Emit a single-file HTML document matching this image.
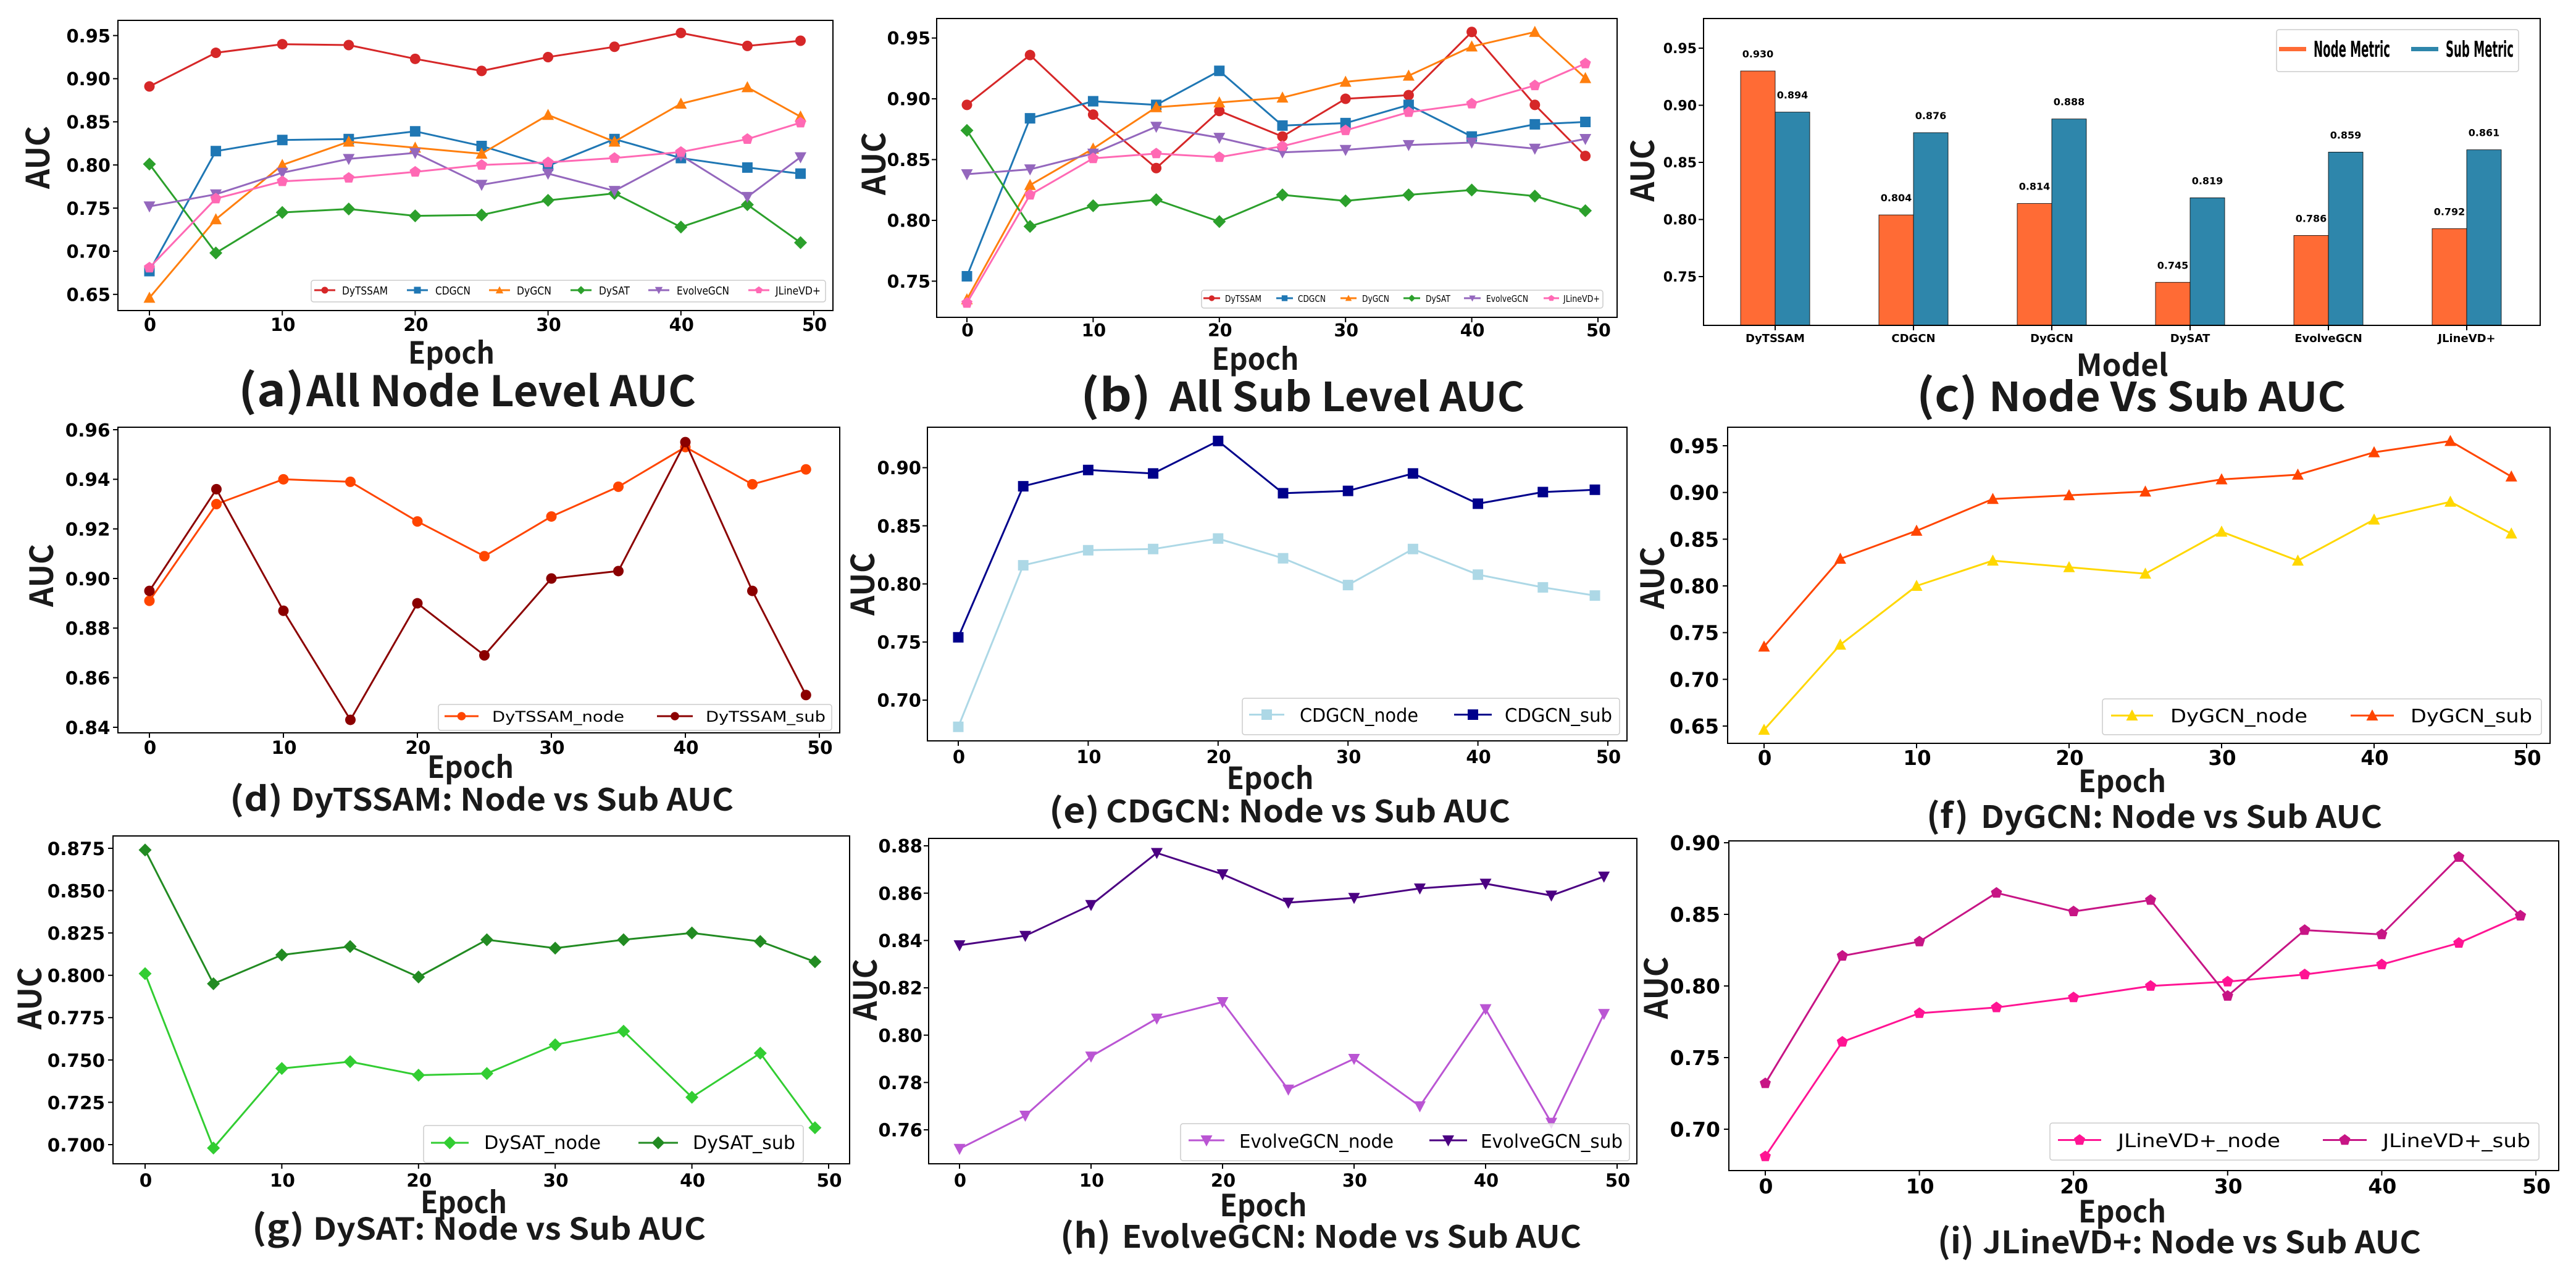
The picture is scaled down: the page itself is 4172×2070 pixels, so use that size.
<!DOCTYPE html>
<html lang="en">
<head>
<meta charset="utf-8">
<title>AUC comparison charts</title>
<style>
html,body{margin:0;padding:0;background:#fff;}
svg{display:block;}
.tick,.value{font-family:"DejaVu Sans","Liberation Sans",sans-serif;font-weight:700;fill:#000;}
.legend-text{font-family:"DejaVu Sans","Liberation Sans",sans-serif;font-weight:400;fill:#000;}
.cap{font-family:"Noto Sans CJK SC","Liberation Sans",sans-serif;font-weight:700;fill:#1a1a1a;}
.frame{fill:none;stroke:#000;stroke-width:2;}
.legend-box{fill:#fff;fill-opacity:.8;stroke:#ccc;stroke-width:1.5;}
</style>
</head>
<body>
<svg id="root" xmlns="http://www.w3.org/2000/svg" width="4172" height="2070" viewBox="0 0 4172 2070">
<rect width="4172" height="2070" fill="#fff"/>

<g>
  <g id="plot-a"></g>
  <rect class="frame" x="191" y="33" width="1158" height="470"/>
  <text class="cap" transform="translate(80,255) rotate(-90)" text-anchor="middle" font-size="52" textLength="102" lengthAdjust="spacingAndGlyphs">AUC</text>
  <text class="cap" x="731" y="589" text-anchor="middle" font-size="49" textLength="140" lengthAdjust="spacingAndGlyphs">Epoch</text>
  <text class="cap" x="386" y="658" font-size="72" textLength="107" lengthAdjust="spacingAndGlyphs">(a)</text>
  <text class="cap" x="496" y="658" font-size="68" textLength="631" lengthAdjust="spacingAndGlyphs">All Node Level AUC</text>
  <g>
    <rect class="legend-box" x="504" y="454" width="833" height="35" rx="4"/>
    <g id="legend-handles-a"></g>
    <text class="legend-text" x="554" y="477" font-size="18" textLength="74" lengthAdjust="spacingAndGlyphs">DyTSSAM</text>
    <text class="legend-text" x="705" y="477" font-size="18" textLength="57" lengthAdjust="spacingAndGlyphs">CDGCN</text>
    <text class="legend-text" x="837" y="477" font-size="18" textLength="56" lengthAdjust="spacingAndGlyphs">DyGCN</text>
    <text class="legend-text" x="970" y="477" font-size="18" textLength="50" lengthAdjust="spacingAndGlyphs">DySAT</text>
    <text class="legend-text" x="1096" y="477" font-size="18" textLength="85" lengthAdjust="spacingAndGlyphs">EvolveGCN</text>
    <text class="legend-text" x="1256" y="477" font-size="18" textLength="73" lengthAdjust="spacingAndGlyphs">JLineVD+</text>
  </g>
</g>

<g>
  <g id="plot-b"></g>
  <rect class="frame" x="1517" y="30" width="1102" height="484"/>
  <text class="cap" transform="translate(1434,265) rotate(-90)" text-anchor="middle" font-size="52" textLength="102" lengthAdjust="spacingAndGlyphs">AUC</text>
  <text class="cap" x="2033" y="599" text-anchor="middle" font-size="49" textLength="141" lengthAdjust="spacingAndGlyphs">Epoch</text>
  <text class="cap" x="1750" y="666" font-size="72" textLength="114" lengthAdjust="spacingAndGlyphs">(b)</text>
  <text class="cap" x="1894" y="666" font-size="65" textLength="575" lengthAdjust="spacingAndGlyphs">All Sub Level AUC</text>
  <g>
    <rect class="legend-box" x="1946" y="470" width="650" height="29" rx="4"/>
    <g id="legend-handles-b"></g>
    <text class="legend-text" x="1984" y="489" font-size="15" textLength="59" lengthAdjust="spacingAndGlyphs">DyTSSAM</text>
    <text class="legend-text" x="2102" y="489" font-size="15" textLength="45" lengthAdjust="spacingAndGlyphs">CDGCN</text>
    <text class="legend-text" x="2206" y="489" font-size="15" textLength="44" lengthAdjust="spacingAndGlyphs">DyGCN</text>
    <text class="legend-text" x="2309" y="489" font-size="15" textLength="40" lengthAdjust="spacingAndGlyphs">DySAT</text>
    <text class="legend-text" x="2407" y="489" font-size="15" textLength="68" lengthAdjust="spacingAndGlyphs">EvolveGCN</text>
    <text class="legend-text" x="2532" y="489" font-size="15" textLength="59" lengthAdjust="spacingAndGlyphs">JLineVD+</text>
  </g>
</g>

<g>
  <g id="plot-c"></g>
  <rect class="frame" x="2759" y="30" width="1355" height="497"/>
  <text class="cap" transform="translate(2679,276) rotate(-90)" text-anchor="middle" font-size="52" textLength="101" lengthAdjust="spacingAndGlyphs">AUC</text>
  <text class="cap" x="3437" y="609" text-anchor="middle" font-size="49" textLength="149" lengthAdjust="spacingAndGlyphs">Model</text>
  <text class="cap" x="3104" y="666" font-size="72" textLength="99" lengthAdjust="spacingAndGlyphs">(c)</text>
  <text class="cap" x="3221" y="666" font-size="65" textLength="578" lengthAdjust="spacingAndGlyphs">Node Vs Sub AUC</text>
  <g>
    <rect class="legend-box" x="3687" y="48" width="392" height="68" rx="4"/>
    <rect x="3691" y="76" width="44" height="7" fill="#FF6B35"/>
    <text class="value" x="3747" y="92" font-size="36" textLength="124" lengthAdjust="spacingAndGlyphs">Node Metric</text>
    <rect x="3905" y="76" width="44" height="7" fill="#2E86AB"/>
    <text class="value" x="3961" y="92" font-size="36" textLength="110" lengthAdjust="spacingAndGlyphs">Sub Metric</text>
  </g>
</g>

<g>
  <g id="plot-d"></g>
  <rect class="frame" x="191" y="692" width="1169" height="495"/>
  <text class="cap" transform="translate(86,932) rotate(-90)" text-anchor="middle" font-size="52" textLength="102" lengthAdjust="spacingAndGlyphs">AUC</text>
  <text class="cap" x="762" y="1260" text-anchor="middle" font-size="49" textLength="140" lengthAdjust="spacingAndGlyphs">Epoch</text>
  <text class="cap" x="372" y="1313" font-size="54" textLength="86" lengthAdjust="spacingAndGlyphs">(d)</text>
  <text class="cap" x="471" y="1313" font-size="50" textLength="717" lengthAdjust="spacingAndGlyphs">DyTSSAM: Node vs Sub AUC</text>
  <g>
    <rect class="legend-box" x="710" y="1141" width="637" height="42" rx="4"/>
    <g id="legend-handles-d"></g>
    <text class="legend-text" x="797" y="1169" font-size="24" textLength="214" lengthAdjust="spacingAndGlyphs">DyTSSAM_node</text>
    <text class="legend-text" x="1143" y="1169" font-size="24" textLength="194" lengthAdjust="spacingAndGlyphs">DyTSSAM_sub</text>
  </g>
</g>

<g>
  <g id="plot-e"></g>
  <rect class="frame" x="1502" y="692" width="1133" height="508"/>
  <text class="cap" transform="translate(1416,946) rotate(-90)" text-anchor="middle" font-size="52" textLength="102" lengthAdjust="spacingAndGlyphs">AUC</text>
  <text class="cap" x="2057" y="1278" text-anchor="middle" font-size="49" textLength="141" lengthAdjust="spacingAndGlyphs">Epoch</text>
  <text class="cap" x="1699" y="1332" font-size="54" textLength="82" lengthAdjust="spacingAndGlyphs">(e)</text>
  <text class="cap" x="1791" y="1332" font-size="50" textLength="655" lengthAdjust="spacingAndGlyphs">CDGCN: Node vs Sub AUC</text>
  <g>
    <rect class="legend-box" x="2012" y="1131" width="611" height="59" rx="4"/>
    <g id="legend-handles-e"></g>
    <text class="legend-text" x="2105" y="1169" font-size="30" textLength="192" lengthAdjust="spacingAndGlyphs">CDGCN_node</text>
    <text class="legend-text" x="2437" y="1169" font-size="30" textLength="174" lengthAdjust="spacingAndGlyphs">CDGCN_sub</text>
  </g>
</g>

<g>
  <g id="plot-f"></g>
  <rect class="frame" x="2798" y="692" width="1332" height="512"/>
  <text class="cap" transform="translate(2695,936) rotate(-90)" text-anchor="middle" font-size="52" textLength="101" lengthAdjust="spacingAndGlyphs">AUC</text>
  <text class="cap" x="3437" y="1283" text-anchor="middle" font-size="49" textLength="142" lengthAdjust="spacingAndGlyphs">Epoch</text>
  <text class="cap" x="3120" y="1341" font-size="55" textLength="68" lengthAdjust="spacingAndGlyphs">(f)</text>
  <text class="cap" x="3208" y="1341" font-size="50" textLength="650" lengthAdjust="spacingAndGlyphs">DyGCN: Node vs Sub AUC</text>
  <g>
    <rect class="legend-box" x="3405" y="1132" width="711" height="58" rx="4"/>
    <g id="legend-handles-f"></g>
    <text class="legend-text" x="3515" y="1170" font-size="30" textLength="222" lengthAdjust="spacingAndGlyphs">DyGCN_node</text>
    <text class="legend-text" x="3904" y="1170" font-size="30" textLength="197" lengthAdjust="spacingAndGlyphs">DyGCN_sub</text>
  </g>
</g>

<g>
  <g id="plot-g"></g>
  <rect class="frame" x="183" y="1354" width="1193" height="531"/>
  <text class="cap" transform="translate(67,1617) rotate(-90)" text-anchor="middle" font-size="52" textLength="101" lengthAdjust="spacingAndGlyphs">AUC</text>
  <text class="cap" x="751" y="1965" text-anchor="middle" font-size="49" textLength="140" lengthAdjust="spacingAndGlyphs">Epoch</text>
  <text class="cap" x="408" y="2008" font-size="56" textLength="85" lengthAdjust="spacingAndGlyphs">(g)</text>
  <text class="cap" x="507" y="2008" font-size="49" textLength="636" lengthAdjust="spacingAndGlyphs">DySAT: Node vs Sub AUC</text>
  <g>
    <rect class="legend-box" x="686" y="1823" width="615" height="60" rx="4"/>
    <g id="legend-handles-g"></g>
    <text class="legend-text" x="784" y="1861" font-size="30" textLength="189" lengthAdjust="spacingAndGlyphs">DySAT_node</text>
    <text class="legend-text" x="1122" y="1861" font-size="30" textLength="166" lengthAdjust="spacingAndGlyphs">DySAT_sub</text>
  </g>
</g>

<g>
  <g id="plot-h"></g>
  <rect class="frame" x="1504" y="1358" width="1147" height="527"/>
  <text class="cap" transform="translate(1420,1603) rotate(-90)" text-anchor="middle" font-size="52" textLength="100" lengthAdjust="spacingAndGlyphs">AUC</text>
  <text class="cap" x="2046" y="1970" text-anchor="middle" font-size="49" textLength="141" lengthAdjust="spacingAndGlyphs">Epoch</text>
  <text class="cap" x="1717" y="2021" font-size="55" textLength="82" lengthAdjust="spacingAndGlyphs">(h)</text>
  <text class="cap" x="1817" y="2021" font-size="50" textLength="744" lengthAdjust="spacingAndGlyphs">EvolveGCN: Node vs Sub AUC</text>
  <g>
    <rect class="legend-box" x="1912" y="1820" width="727" height="60" rx="4"/>
    <g id="legend-handles-h"></g>
    <text class="legend-text" x="2007" y="1859" font-size="30" textLength="250" lengthAdjust="spacingAndGlyphs">EvolveGCN_node</text>
    <text class="legend-text" x="2398" y="1859" font-size="30" textLength="230" lengthAdjust="spacingAndGlyphs">EvolveGCN_sub</text>
  </g>
</g>

<g>
  <g id="plot-i"></g>
  <rect class="frame" x="2800" y="1362" width="1344" height="534"/>
  <text class="cap" transform="translate(2701,1600) rotate(-90)" text-anchor="middle" font-size="52" textLength="101" lengthAdjust="spacingAndGlyphs">AUC</text>
  <text class="cap" x="3437" y="1980" text-anchor="middle" font-size="49" textLength="142" lengthAdjust="spacingAndGlyphs">Epoch</text>
  <text class="cap" x="3138" y="2030" font-size="55" textLength="59" lengthAdjust="spacingAndGlyphs">(i)</text>
  <text class="cap" x="3211" y="2030" font-size="50" textLength="710" lengthAdjust="spacingAndGlyphs">JLineVD+: Node vs Sub AUC</text>
  <g>
    <rect class="legend-box" x="3320" y="1819" width="792" height="60" rx="4"/>
    <g id="legend-handles-i"></g>
    <text class="legend-text" x="3430" y="1858" font-size="30" textLength="263" lengthAdjust="spacingAndGlyphs">JLineVD+_node</text>
    <text class="legend-text" x="3859" y="1858" font-size="30" textLength="239" lengthAdjust="spacingAndGlyphs">JLineVD+_sub</text>
  </g>
</g>
</svg>

<script>
// ---- data ----
const epochs = [0, 5, 10, 15, 20, 25, 30, 35, 40, 45, 49];
const xTickValues = [0, 10, 20, 30, 40, 50];

const dytssamNode = [0.891, 0.930, 0.940, 0.939, 0.923, 0.909, 0.925, 0.937, 0.953, 0.938, 0.944];
const dytssamSub = [0.895, 0.936, 0.887, 0.843, 0.890, 0.869, 0.900, 0.903, 0.955, 0.895, 0.853];
const cdgcnNode = [0.677, 0.816, 0.829, 0.830, 0.839, 0.822, 0.799, 0.830, 0.808, 0.797, 0.790];
const cdgcnSub = [0.754, 0.884, 0.898, 0.895, 0.923, 0.878, 0.880, 0.895, 0.869, 0.879, 0.881];
const dygcnNode = [0.646, 0.737, 0.800, 0.827, 0.820, 0.813, 0.858, 0.827, 0.871, 0.890, 0.856];
const dygcnSub = [0.735, 0.829, 0.859, 0.893, 0.897, 0.901, 0.914, 0.919, 0.943, 0.955, 0.917];
const dysatNode = [0.801, 0.698, 0.745, 0.749, 0.741, 0.742, 0.759, 0.767, 0.728, 0.754, 0.710];
const dysatSub = [0.874, 0.795, 0.812, 0.817, 0.799, 0.821, 0.816, 0.821, 0.825, 0.820, 0.808];
const evolveNode = [0.752, 0.766, 0.791, 0.807, 0.814, 0.777, 0.790, 0.770, 0.811, 0.763, 0.809];
const evolveSub = [0.838, 0.842, 0.855, 0.877, 0.868, 0.856, 0.858, 0.862, 0.864, 0.859, 0.867];
const jlineNode = [0.681, 0.761, 0.781, 0.785, 0.792, 0.800, 0.803, 0.808, 0.815, 0.830, 0.849];
const jlineSub = [0.732, 0.821, 0.831, 0.865, 0.852, 0.860, 0.793, 0.839, 0.836, 0.890, 0.849];
const jlineSubAll = [0.732, 0.821, 0.851, 0.855, 0.852, 0.861, 0.874, 0.889, 0.896, 0.911, 0.929];

const barModels = ['DyTSSAM', 'CDGCN', 'DyGCN', 'DySAT', 'EvolveGCN', 'JLineVD+'];
const nodeMetric = [0.930, 0.804, 0.814, 0.745, 0.786, 0.792];
const subMetric = [0.894, 0.876, 0.888, 0.819, 0.859, 0.861];

const ticksA = ['0.65', '0.70', '0.75', '0.80', '0.85', '0.90', '0.95'];
const ticksB = ['0.75', '0.80', '0.85', '0.90', '0.95'];
const ticksD = ['0.84', '0.86', '0.88', '0.90', '0.92', '0.94', '0.96'];
const ticksE = ['0.70', '0.75', '0.80', '0.85', '0.90'];
const ticksF = ['0.65', '0.70', '0.75', '0.80', '0.85', '0.90', '0.95'];
const ticksG = ['0.700', '0.725', '0.750', '0.775', '0.800', '0.825', '0.850', '0.875'];
const ticksH = ['0.76', '0.78', '0.80', '0.82', '0.84', '0.86', '0.88'];
const ticksI = ['0.70', '0.75', '0.80', '0.85', '0.90'];

// ---- layout (pixels) ----
const NS = 'http://www.w3.org/2000/svg';
const RED = '#d62728', BLUE = '#1f77b4', ORANGE = '#ff7f0e', GREEN = '#2ca02c', PURPLE = '#9467bd', PINK = '#ff69b4';

function allSeries(jl) {
  return [
    {key: 'dytssam', color: RED, marker: 'circle', values: dytssamNode},
    {key: 'cdgcn', color: BLUE, marker: 'square', values: cdgcnNode},
    {key: 'dygcn', color: ORANGE, marker: 'up', values: dygcnNode},
    {key: 'dysat', color: GREEN, marker: 'diamond', values: dysatNode},
    {key: 'evolvegcn', color: PURPLE, marker: 'down', values: evolveNode},
    {key: 'jlinevd', color: PINK, marker: 'pentagon', values: jl}
  ];
}
const bSeries = allSeries(jlineSubAll);
bSeries[0].values = dytssamSub; bSeries[1].values = cdgcnSub; bSeries[2].values = dygcnSub;
bSeries[3].values = dysatSub; bSeries[4].values = evolveSub;

const panels = [
  {id: 'a', left: 191, bottom: 503, x0: 242, x50: 1318, v1: 0.95, p1: 57.6, v2: 0.65, p2: 476.8, ticks: ticksA, fs: 29, tickRight: 179, xBase: 536, k: 1,
   series: allSeries(jlineNode),
   handles: [[509, 543], [659, 693], [792, 826], [924, 958], [1050, 1084], [1212, 1246]], hy: 470, hk: 0.65},
  {id: 'b', left: 1517, bottom: 514, x0: 1566, x50: 2588, v1: 0.95, p1: 61.6, v2: 0.75, p2: 455.4, ticks: ticksB, fs: 28.5, tickRight: 1507, xBase: 545, k: 1,
   series: bSeries,
   handles: [[1949, 1976], [2067, 2094], [2171, 2197], [2273, 2300], [2371, 2398], [2500, 2525]], hy: 483, hk: 0.55},
  {id: 'd', left: 191, bottom: 1187, x0: 242, x50: 1327, v1: 0.96, p1: 696, v2: 0.84, p2: 1178, ticks: ticksD, fs: 29.5, tickRight: 178.5, xBase: 1221, k: 1,
   series: [{key: 'dytssam-node', color: '#FF4500', marker: 'circle', values: dytssamNode}, {key: 'dytssam-sub', color: '#8B0000', marker: 'circle', values: dytssamSub}],
   handles: [[720, 775], [1064, 1122]], hy: 1160, hk: 0.8},
  {id: 'e', left: 1502, bottom: 1200, x0: 1552, x50: 2604, v1: 0.90, p1: 757.5, v2: 0.70, p2: 1134, ticks: ticksE, fs: 29, tickRight: 1492, xBase: 1236, k: 1,
   series: [{key: 'cdgcn-node', color: '#ADD8E6', marker: 'square', values: cdgcnNode}, {key: 'cdgcn-sub', color: '#00008B', marker: 'square', values: cdgcnSub}],
   handles: [[2023, 2080], [2355, 2416]], hy: 1157.5, hk: 1},
  {id: 'f', left: 2798, bottom: 1204, x0: 2857, x50: 4092, v1: 0.95, p1: 722, v2: 0.65, p2: 1176, ticks: ticksF, fs: 32.5, tickRight: 2784, xBase: 1239, k: 1,
   series: [{key: 'dygcn-node', color: '#FFD700', marker: 'up', values: dygcnNode}, {key: 'dygcn-sub', color: '#FF4500', marker: 'up', values: dygcnSub}],
   handles: [[3419, 3487], [3807, 3877]], hy: 1159, hk: 1},
  {id: 'g', left: 183, bottom: 1885, x0: 235, x50: 1342, v1: 0.875, p1: 1374, v2: 0.700, p2: 1854, ticks: ticksG, fs: 29.5, tickRight: 170, xBase: 1922, k: 1,
   series: [{key: 'dysat-node', color: '#32CD32', marker: 'diamond', values: dysatNode}, {key: 'dysat-sub', color: '#228B22', marker: 'diamond', values: dysatSub}],
   handles: [[698, 759], [1034, 1098]], hy: 1851, hk: 1},
  {id: 'h', left: 1504, bottom: 1885, x0: 1554, x50: 2619, v1: 0.88, p1: 1370, v2: 0.76, p2: 1830, ticks: ticksH, fs: 29, tickRight: 1494, xBase: 1922, k: 1,
   series: [{key: 'evolvegcn-node', color: '#BA55D3', marker: 'down', values: evolveNode}, {key: 'evolvegcn-sub', color: '#4B0082', marker: 'down', values: evolveSub}],
   handles: [[1925, 1983], [2315, 2376]], hy: 1847, hk: 1},
  {id: 'i', left: 2800, bottom: 1896, x0: 2859, x50: 4107, v1: 0.85, p1: 1481, v2: 0.70, p2: 1829, ticks: ticksI, fs: 33, tickRight: 2786, xBase: 1933, k: 1,
   series: [{key: 'jlinevd-node', color: '#FF1493', marker: 'pentagon', values: jlineNode}, {key: 'jlinevd-sub', color: '#C71585', marker: 'pentagon', values: jlineSub}],
   handles: [[3333, 3403], [3762, 3833]], hy: 1846.5, hk: 1}
];

function el(tag, attrs, parent) {
  const e = document.createElementNS(NS, tag);
  for (const k in attrs) e.setAttribute(k, attrs[k]);
  parent.appendChild(e);
  return e;
}

function markerPath(kind, cx, cy, k) {
  const pts = [];
  if (kind === 'square') {
    const s = 8.5 * k;
    pts.push([-s, -s], [s, -s], [s, s], [-s, s]);
  } else if (kind === 'up') {
    pts.push([0, -10 * k], [9.5 * k, 8 * k], [-9.5 * k, 8 * k]);
  } else if (kind === 'down') {
    pts.push([0, 10 * k], [9.5 * k, -8 * k], [-9.5 * k, -8 * k]);
  } else if (kind === 'diamond') {
    const s = 10.5 * k;
    pts.push([0, -s], [s, 0], [0, s], [-s, 0]);
  } else if (kind === 'pentagon') {
    const r = 9.5 * k;
    for (let i = 0; i < 5; i++) {
      const a = -Math.PI / 2 + i * 2 * Math.PI / 5;
      pts.push([r * Math.cos(a), r * Math.sin(a)]);
    }
  }
  return 'M' + pts.map(p => (cx + p[0]).toFixed(1) + ' ' + (cy + p[1]).toFixed(1)).join('L') + 'Z';
}

function drawMarker(kind, cx, cy, k, color, parent) {
  if (kind === 'circle') {
    return el('circle', {cx: cx, cy: cy, r: 8.5 * k, fill: color}, parent);
  }
  return el('path', {d: markerPath(kind, cx, cy, k), fill: color}, parent);
}

function drawTickText(str, x, y, fs, anchor, parent) {
  const t = el('text', {'class': 'tick', x: x, y: y, 'font-size': fs, 'text-anchor': anchor}, parent);
  t.textContent = str;
  return t;
}

panels.forEach(function (p) {
  const plot = document.getElementById('plot-' + p.id);
  const xScale = function (v) { return p.x0 + (p.x50 - p.x0) * v / 50; };
  const yScale = function (v) { return p.p1 + (p.p2 - p.p1) * (v - p.v1) / (p.v2 - p.v1); };

  xTickValues.forEach(function (v) {
    const mark = el('line', {x1: xScale(v), x2: xScale(v), y1: p.bottom, y2: p.bottom + 8, stroke: '#000', 'stroke-width': 2}, plot);
    
    
    const label = drawTickText(String(v), xScale(v) + 1, p.xBase, p.fs, 'middle', plot);
    
    
  });
  p.ticks.forEach(function (s) {
    const y = yScale(parseFloat(s));
    const mark = el('line', {x1: p.left - 8, x2: p.left, y1: y, y2: y, stroke: '#000', 'stroke-width': 2}, plot);
    
    
    const label = drawTickText(s, p.tickRight, y + p.fs * 0.37, p.fs, 'end', plot);
    
    
  });

  p.series.forEach(function (s) {
    const d = s.values.map(function (v, i) {
      return (i ? 'L' : 'M') + xScale(epochs[i]).toFixed(1) + ' ' + yScale(v).toFixed(1);
    }).join('');
    const line = el('path', {d: d, fill: 'none', stroke: s.color, 'stroke-width': 3, 'stroke-linejoin': 'round'}, plot);
    
    
    s.values.forEach(function (v, i) {
      const m = drawMarker(s.marker, xScale(epochs[i]), yScale(v), p.k, s.color, plot);
      
      
    });
  });

  const hg = document.getElementById('legend-handles-' + p.id);
  p.series.forEach(function (s, i) {
    const h = p.handles[i];
    const hl = el('line', {x1: h[0], x2: h[1], y1: p.hy, y2: p.hy, stroke: s.color, 'stroke-width': 3}, hg);
    
    
    const hm = drawMarker(s.marker, (h[0] + h[1]) / 2, p.hy, p.hk, s.color, hg);
    
    
  });
});

// ---- bar panel ----
(function () {
  const plot = document.getElementById('plot-c');
  const left = 2759, bottom = 527, cat0 = 2875, catStep = 224, barW = 56;
  const yScale = function (v) { return 78 + (448 - 78) * (v - 0.95) / (0.75 - 0.95); };
  const catX = function (i) { return cat0 + catStep * i; };

  ticksB.forEach(function (s) {
    const y = yScale(parseFloat(s));
    const mark = el('line', {x1: left - 8, x2: left, y1: y, y2: y, stroke: '#000', 'stroke-width': 2}, plot);
    
    
    const label = drawTickText(s, 2748, y + 8, 22, 'end', plot);
    
    
  });

  barModels.forEach(function (name, i) {
    const cx = catX(i);
    const mark = el('line', {x1: cx, x2: cx, y1: bottom, y2: bottom + 8, stroke: '#000', 'stroke-width': 2}, plot);
    
    
    const label = drawTickText(name, cx, 554, 18, 'middle', plot);
    
    

    const nodeTop = yScale(nodeMetric[i]);
    const nodeBar = el('rect', {x: cx - barW, y: nodeTop, width: barW, height: bottom - nodeTop, fill: '#FF6B35', stroke: '#000', 'stroke-width': 0.8}, plot);
    
    
    const subTop = yScale(subMetric[i]);
    const subBar = el('rect', {x: cx, y: subTop, width: barW, height: bottom - subTop, fill: '#2E86AB', stroke: '#000', 'stroke-width': 0.8}, plot);
    
    

    const nodeVal = el('text', {'class': 'value', x: cx - barW / 2, y: nodeTop - 22, 'font-size': 16, 'text-anchor': 'middle'}, plot);
    nodeVal.textContent = nodeMetric[i].toFixed(3);
    
    
    const subVal = el('text', {'class': 'value', x: cx + barW / 2, y: subTop - 22, 'font-size': 16, 'text-anchor': 'middle'}, plot);
    subVal.textContent = subMetric[i].toFixed(3);
    
    
  });
})();
</script>
</body>
</html>
